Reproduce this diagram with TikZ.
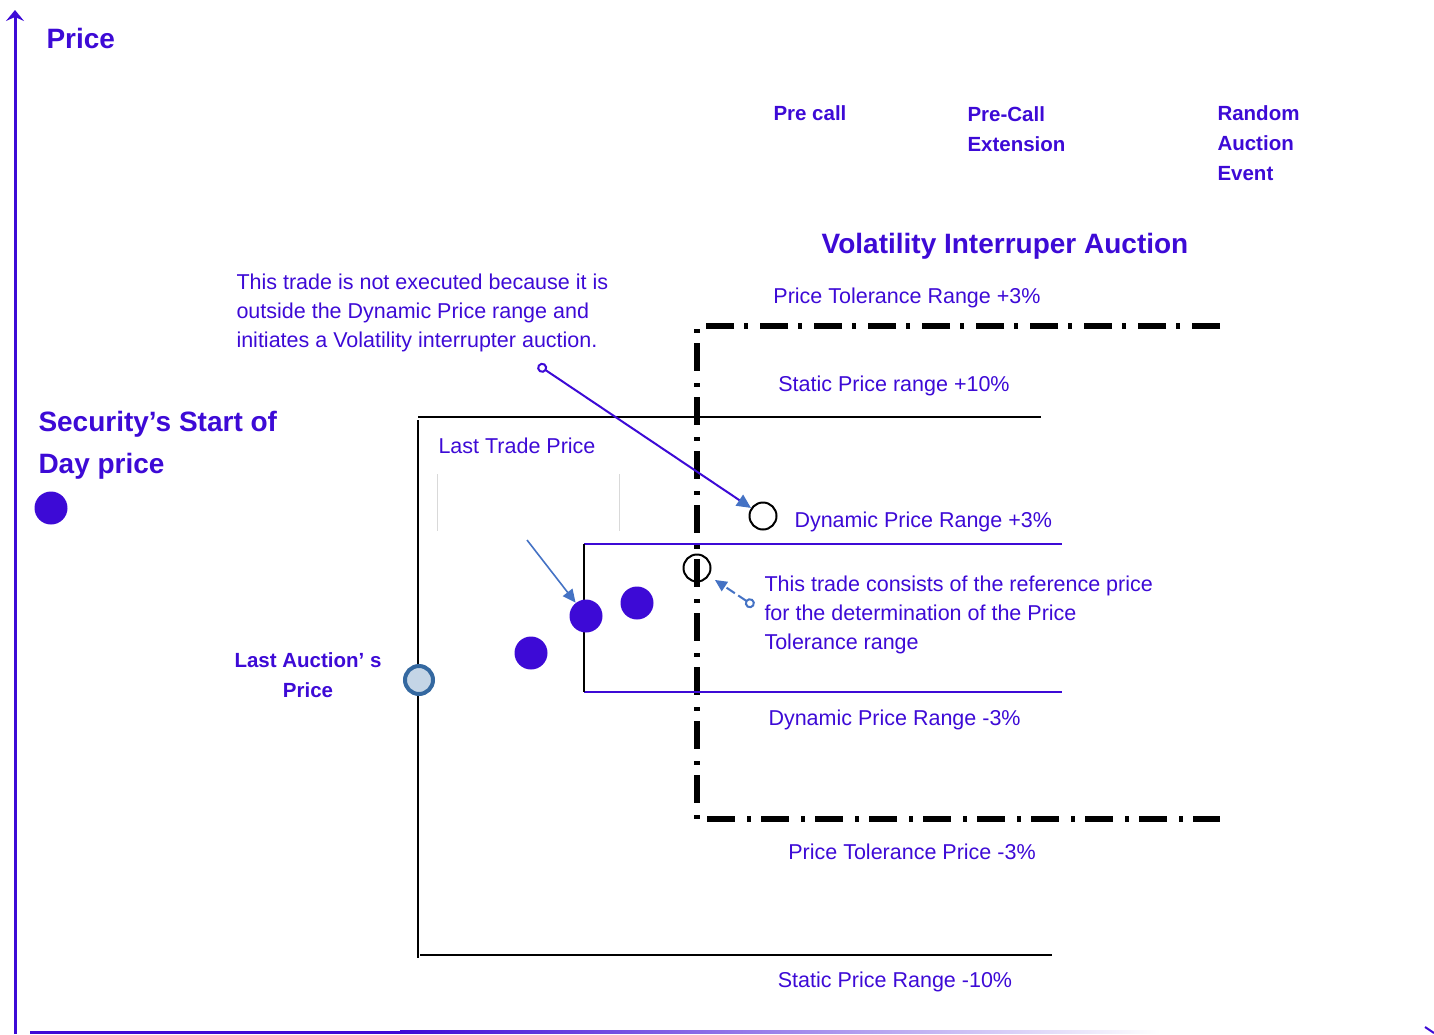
\documentclass[tikz,border=0pt]{standalone}
\usepackage{fontspec}
\setmainfont{Liberation Sans}
\usetikzlibrary{arrows.meta,positioning}
\definecolor{vblue}{RGB}{61,10,214}
\definecolor{steel}{RGB}{68,114,196}
\definecolor{paleblue}{RGB}{196,213,230}
\definecolor{ringblue}{RGB}{52,104,160}

\begin{document}
\begin{tikzpicture}[x=1pt,y=-1pt,
    line width=1pt,
    note/.style={text=vblue,inner sep=0pt,align=left,font=\fontsize{21.5}{29}\selectfont},
    head/.style={note,font=\fontsize{20.5}{30}\selectfont\bfseries},
    big/.style={note,font=\fontsize{28}{42}\selectfont\bfseries},
    trade/.style={circle,fill=vblue,inner sep=0pt,minimum size=33pt},
    ring/.style={circle,draw=black,line width=2pt,inner sep=0pt,minimum size=27pt},
    band/.style={line width=2.5pt},
    tol/.style={line width=5.5pt,dash pattern=on 28pt off 12pt on 4pt off 10pt},
    arrow/.style={-{Triangle[length=13pt,width=12pt]},steel,line width=1.6pt}
]
\path[use as bounding box] (0,0) rectangle (1434,1034);

% axes
\coordinate (origin) at (15,1034);
\coordinate (ytop) at (15,10);
\draw[vblue,line width=3pt,-{Stealth[length=11pt,width=18pt,inset=4pt]}] (origin) -- (ytop);
\fill[vblue] (30,1030.5) rectangle (400,1033.5);
\shade[left color=vblue,right color=white] (400,1030.5) rectangle (1160,1033.5);
\draw[vblue,line width=2pt] (1425,1027) -- (1434,1033);
\node[big,anchor=west] (priceLbl) at (46,38) {Price};

% phase labels
\node[head,anchor=west] (preCall) at (773,113) {Pre call};
\node[head,anchor=west] (preExt) at (967,129) {Pre-Call\\Extension};
\node[head,anchor=west] (randEvt) at (1217,143) {Random\\Auction\\Event};
\node[big,anchor=center] (viaTitle) at (1005,246) {Volatility Interruper Auction};

% ranges
\draw[tol] (1220,326) -- (697,326) -- (697,819) -- (1220,819);
\draw[band] (418,417) -- (1041,417);
\draw[band] (418,420) -- (418,958);
\draw[band] (420,955) -- (1052,955);
\draw[vblue,line width=2pt] (584,544) -- (1062,544);
\draw[vblue,line width=2pt] (584,692) -- (1062,692);
\draw[line width=2pt] (584,544) -- (584,692);
\draw[black!15,line width=0.8pt] (437,474) -- (437,531);
\draw[black!15,line width=0.8pt] (619,474) -- (619,531);

\node[note,anchor=center] (ptrUp) at (907,298) {Price Tolerance Range +3\%};
\node[note,anchor=center] (sprUp) at (894,386) {Static Price range +10\%};
\node[note,anchor=west] (dprUp) at (794,522) {Dynamic Price Range +3\%};
\node[note,anchor=west] (dprDn) at (768,720) {Dynamic Price Range -3\%};
\node[note,anchor=center] (ptpDn) at (912,852) {Price Tolerance Price -3\%};
\node[note,anchor=center] (sprDn) at (895,982) {Static Price Range -10\%};

% prices
\node[big,anchor=west] (sodLbl) at (38,445) {Security’s Start of\\Day price};
\node[trade] (sodDot) at (51,508) {};
\node[note,anchor=west] (ltpLbl) at (438,446) {Last Trade Price};
\node[head,align=center] (laLbl) at (308,675) {Last Auction’ s\\Price};
\node[circle,draw=ringblue,fill=paleblue,line width=4pt,inner sep=0pt,minimum size=28pt] (laDot) at (419,680) {};
\node[trade] (tr1) at (531,653) {};
\node[trade] (tr2) at (586,616) {};
\node[trade] (tr3) at (637,603) {};
\node[ring] (refTr) at (697,568) {};
\node[ring] (haltTr) at (763,516) {};

% notes
\node[note,anchor=west] (haltNote) at (236,313)
    {This trade is not executed because it is\\outside the Dynamic Price range and\\initiates a Volatility interrupter auction.};
\node[note,anchor=west] (refNote) at (764,615)
    {This trade consists of the reference price\\for the determination of the Price\\Tolerance range};

\coordinate (haltTail) at (538,365);
\coordinate (refTail) at (754,606);
\coordinate (ltpTail) at (527,540);
\draw[vblue,line width=2pt,{Circle[open,length=10pt,width=10pt]}-{Triangle[length=14pt,width=13pt,color=steel]}] (haltTail) -- (haltTr);
\draw[steel,line width=2pt,dash pattern=on 10pt off 4pt,shorten >=7pt,{Circle[open,length=10pt,width=10pt]}-{Triangle[length=12pt,width=11pt]}] (refTail) -- (refTr);
\draw[arrow] (ltpTail) -- (tr2);
\end{tikzpicture}
\end{document}
